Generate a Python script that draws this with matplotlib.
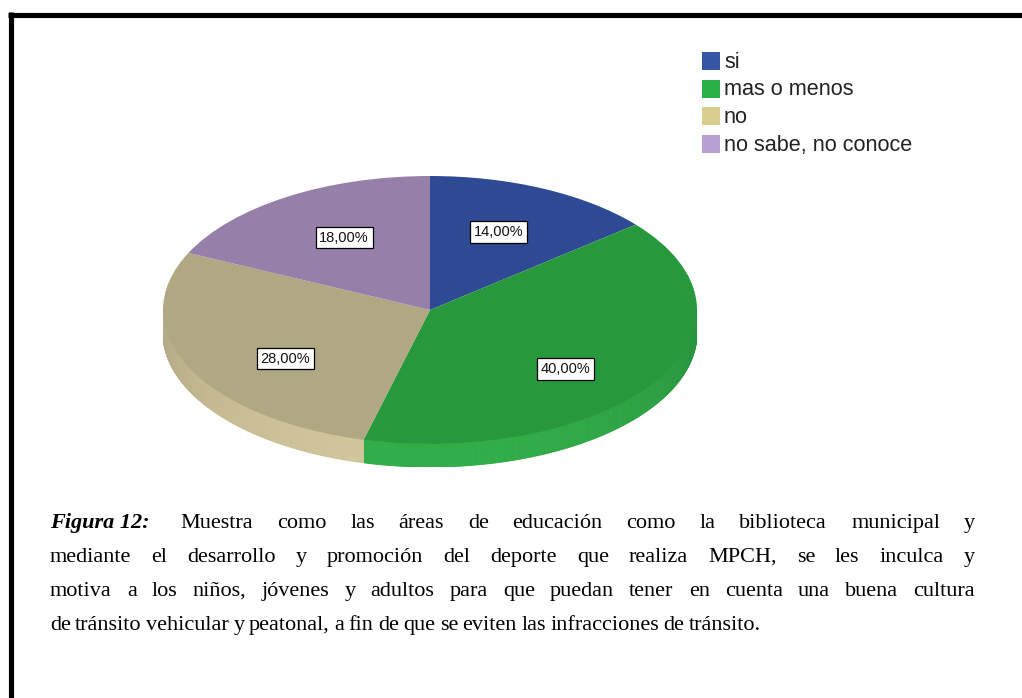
import numpy as np
import matplotlib.pyplot as plt
from matplotlib.collections import PolyCollection
from matplotlib.patches import Rectangle
from matplotlib.colors import to_rgb

# data
labels = ['si', 'mas o menos', 'no', 'no sabe, no conoce']
values = [14, 40, 28, 18]
pct_labels = [f'{v:.2f}%'.replace('.', ',') for v in values]

top_colors = ['#2f4a94', '#28983c', '#b0a882', '#9680aa']
side_colors = ['#2c4690', '#30ad48', '#d2c69c', '#8f7aa5']
legend_colors = ['#3755a5', '#28af46', '#d7cd8c', '#b9a0d2']

caption_head = 'Figura 12:'
caption_lines = [
    'Muestra como las áreas de educación como la biblioteca municipal y',
    'mediante el desarrollo y promoción del deporte que realiza MPCH, se les inculca y',
    'motiva a los niños, jóvenes y adultos para que puedan tener en cuenta una buena cultura',
    'de tránsito vehicular y peatonal, a fin de que se eviten las infracciones de tránsito.',
]

W, H = 1022, 698
fig = plt.figure(figsize=(W / 100, H / 100), dpi=100)
fig.patch.set_facecolor('white')

# background axes in pixel units (y down)
bg = fig.add_axes([0, 0, 1, 1])
bg.set_xlim(0, W)
bg.set_ylim(H, 0)
bg.axis('off')

# frame (top and left edges only are visible)
bg.plot([8, W], [14.5, 14.5], color='black', lw=3.7, solid_capstyle='butt')
bg.plot([10.5, 10.5], [12, H], color='black', lw=3.7, solid_capstyle='butt')

# --- 3D-looking pie ---
cx, cy, rx, ry, depth = 430, 310, 267, 134, 23
d = depth / ry
ax = fig.add_axes([(cx - rx) / W, 1 - (cy + ry + depth) / H,
                   2 * rx / W, (2 * ry + depth) / H])
wedges, _ = ax.pie(values, startangle=90, counterclock=False,
                   colors=top_colors, wedgeprops=dict(linewidth=0))
ax.set_aspect('auto')
ax.set_xlim(-1, 1)
ax.set_ylim(-1 - d, 1)
ax.axis('off')

for w in wedges:
    w.set_zorder(3)

# side wall of the pie, visible front half only
for w, c in zip(wedges, side_colors):
    t = np.radians(np.linspace(w.theta1, w.theta2, 300))
    polys, cols = [], []
    for a, b in zip(t[:-1], t[1:]):
        m = (a + b) / 2
        if np.sin(m) > 0:
            continue
        polys.append([(np.cos(a), np.sin(a)), (np.cos(b), np.sin(b)),
                      (np.cos(b), np.sin(b) - d), (np.cos(a), np.sin(a) - d)])
        shade = 0.84 + 0.16 * (-np.sin(m))
        cols.append(np.clip(np.array(to_rgb(c)) * shade, 0, 1))
    if polys:
        ax.add_collection(PolyCollection(polys, facecolors=cols, edgecolors=cols,
                                         linewidths=0.6, zorder=2))

# percentage labels
for w, txt in zip(wedges, pct_labels):
    mid = np.radians((w.theta1 + w.theta2) / 2)
    ax.text(0.6 * np.cos(mid), 0.71 * np.sin(mid) - 0.06, txt, ha='center', va='center',
            fontsize=10.5, family='Liberation Sans', color='#111111', zorder=5,
            bbox=dict(boxstyle='square,pad=0.25', fc='white', ec='black', lw=0.9))

# legend
for i, (lab, c) in enumerate(zip(labels, legend_colors)):
    yc = 61 + i * 27.7
    bg.add_patch(Rectangle((702, yc - 9), 18, 18, color=c, lw=0))
    bg.text(724, yc + 1, lab, va='center', ha='left', fontsize=15.6,
            family='Liberation Sans', color='#222222')

# caption, justified between x0 and x1
fig.canvas.draw()
renderer = fig.canvas.get_renderer()
fs = 16
x0, x1 = 50, 975
for i, line in enumerate(caption_lines):
    y = 528 + 34 * i
    tokens = [(wd, False) for wd in line.split()]
    if i == 0:
        tokens = [(caption_head, True)] + tokens
    texts = []
    for wd, bi in tokens:
        t = bg.text(0, y, wd, fontsize=fs, family='Liberation Serif',
                    fontstyle='italic' if bi else 'normal',
                    fontweight='bold' if bi else 'normal',
                    va='baseline', ha='left', color='black')
        texts.append(t)
    widths = [t.get_window_extent(renderer).width for t in texts]
    n = len(texts)
    weights = [1.0] * (n - 1)
    if i == 0:
        weights[0] = 1.3
    if i < len(caption_lines) - 1:
        unit = (x1 - x0 - sum(widths)) / sum(weights)
    else:
        unit = fs * 100 / 72 * 0.2
    x = x0
    for k, t in enumerate(texts):
        t.set_x(x)
        x += widths[k]
        if k < n - 1:
            x += unit * weights[k]

fig.savefig('out.png', dpi=100)
